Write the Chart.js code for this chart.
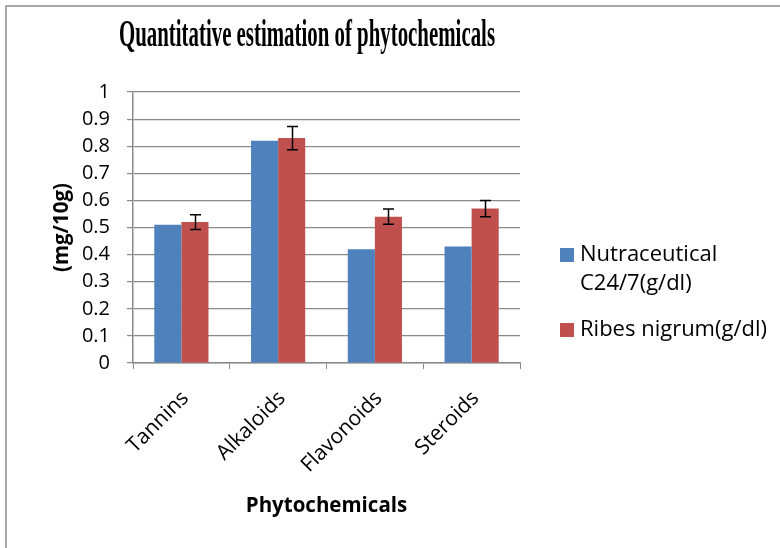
<!DOCTYPE html>
<html>
<head>
<meta charset="utf-8">
<script src="https://cdn.jsdelivr.net/npm/chart.js@4"></script>
<style>
  html, body { margin: 0; padding: 0; background: #fff; }
  #wrap { width: 780px; height: 548px; }
</style>
</head>
<body>
<div id="wrap"><canvas id="phytoChart" width="780" height="548"></canvas></div>
<script>
// chart values
const categories = ['Tannins', 'Alkaloids', 'Flavonoids', 'Steroids'];
const seriesNames = ['Nutraceutical C24/7(g/dl)', 'Ribes nigrum(g/dl)'];
const nutraValues = [0.51, 0.82, 0.42, 0.43];
const ribesValues = [0.52, 0.83, 0.54, 0.57];
const ribesErrors = [0.027, 0.043, 0.028, 0.03];
const yMin = 0, yMax = 1, yStep = 0.1;

const chartTitle = 'Quantitative estimation of phytochemicals';
const xTitle = 'Phytochemicals';
const yTitle = '(mg/10g)';

const sansFont = '"Open Sans", "Noto Sans", sans-serif';

// frame around the chart (only left/top edges are visible in the picture)
const framePlugin = {
    id: 'frame',
    beforeDraw(chart) {
        const ctx = chart.ctx;
        ctx.save();
        ctx.strokeStyle = '#8a8a8a';
        ctx.lineWidth = 1.5;
        ctx.strokeRect(6, 6, 2000, 2000);
        ctx.restore();
    }
};

// Excel-like title: condensed bold serif
const titlePlugin = {
    id: 'xlTitle',
    afterDraw(chart) {
        const ctx = chart.ctx;
        ctx.save();
        ctx.font = 'bold 37px "Liberation Serif", "Times New Roman", serif';
        ctx.fillStyle = '#000';
        ctx.textBaseline = 'alphabetic';
        ctx.textAlign = 'center';
        const w = ctx.measureText(chartTitle).width;
        const sx = 376 / w;
        ctx.translate(307, 46);
        ctx.scale(sx, 1);
        ctx.fillText(chartTitle, 0, 0);
        ctx.restore();
    }
};

// error bars for the series that have them
const errorBarPlugin = {
    id: 'errorBars',
    afterDatasetsDraw(chart) {
        const ctx = chart.ctx;
        const yScale = chart.scales.y;
        chart.data.datasets.forEach((ds, di) => {
            if (!ds.errors) return;
            const meta = chart.getDatasetMeta(di);
            ctx.save();
            ctx.strokeStyle = '#000';
            ctx.lineWidth = 1.5;
            meta.data.forEach((bar, i) => {
                const v = ds.data[i], e = ds.errors[i];
                const top = yScale.getPixelForValue(v + e);
                const bot = yScale.getPixelForValue(v - e);
                const x = Math.round(bar.x) + 0.5;
                ctx.beginPath();
                ctx.moveTo(x, top); ctx.lineTo(x, bot);
                ctx.moveTo(x - 5.5, top); ctx.lineTo(x + 5.5, top);
                ctx.moveTo(x - 5.5, bot); ctx.lineTo(x + 5.5, bot);
                ctx.stroke();
            });
            ctx.restore();
        });
    }
};

// legend at the right, with wrapped labels
const legendPlugin = {
    id: 'sideLegend',
    afterDraw(chart) {
        const ctx = chart.ctx;
        ctx.save();
        ctx.font = '22px ' + sansFont;
        ctx.textBaseline = 'middle';
        ctx.fillStyle = '#000';
        let y = 255;
        chart.data.datasets.forEach(ds => {
            // wrap words into lines
            const words = ds.label.split(' ');
            const lines = [];
            let line = '';
            words.forEach(w => {
                const test = line ? line + ' ' + w : w;
                if (ctx.measureText(test).width > 195 && line) {
                    lines.push(line);
                    line = w;
                } else {
                    line = test;
                }
            });
            lines.push(line);
            ctx.fillStyle = ds.backgroundColor;
            ctx.fillRect(560, y - 7, 14, 14);
            ctx.fillStyle = '#000';
            lines.forEach((l, k) => ctx.fillText(l, 580, y + k * 29));
            y += (lines.length - 1) * 29 + 46;
        });
        ctx.restore();
    }
};

const ctx = document.getElementById('phytoChart').getContext('2d');
const myChart = new Chart(ctx, {
    type: 'bar',
    data: {
        labels: categories,
        datasets: [
            {
                label: seriesNames[0],
                data: nutraValues,
                backgroundColor: '#4F81BD',
                borderWidth: 0,
                barPercentage: 1,
                categoryPercentage: 0.56,
            },
            {
                label: seriesNames[1],
                data: ribesValues,
                errors: ribesErrors,
                backgroundColor: '#C0504D',
                borderWidth: 0,
                barPercentage: 1,
                categoryPercentage: 0.56,
            },
        ],
    },
    options: {
        responsive: false,
        animation: false,
        layout: {
            padding: { left: 50, top: 92, right: 260, bottom: 30 },
        },
        scales: {
            x: {
                grid: {
                    display: true,
                    drawOnChartArea: false,
                    drawTicks: true,
                    tickLength: 6,
                    color: '#8a8a8a',
                    offset: true,
                },
                border: { display: true, color: '#8a8a8a', width: 1.5 },
                ticks: {
                    color: '#000',
                    font: { family: sansFont, size: 21 },
                    minRotation: 45,
                    maxRotation: 45,
                    padding: 17,
                    labelOffset: 4,
                },
                title: {
                    display: true,
                    text: xTitle,
                    color: '#000',
                    font: { family: sansFont, size: 20.5, weight: 'bold' },
                    padding: 0,
                },
                afterFit(scale) { scale.height = 548 - 363 - 30; },
            },
            y: {
                min: yMin,
                max: yMax,
                grid: {
                    color: '#8a8a8a',
                    lineWidth: 1.2,
                    tickLength: 6,
                },
                border: { display: true, color: '#8a8a8a', width: 1.5 },
                ticks: {
                    stepSize: yStep,
                    autoSkip: false,
                    color: '#000',
                    font: { family: sansFont, size: 20 },
                    padding: 17,
                    callback: v => String(+v.toFixed(1)),
                },
                title: {
                    display: true,
                    text: yTitle,
                    color: '#000',
                    font: { family: sansFont, size: 20.5, weight: 'bold' },
                    padding: 0,
                },
                afterFit(scale) { scale.width = 133 - 50; },
            },
        },
        plugins: {
            legend: { display: false },
            title: { display: false },
            tooltip: { enabled: false },
        },
    },
    plugins: [framePlugin, titlePlugin, errorBarPlugin, legendPlugin],
});
</script>
</body>
</html>
